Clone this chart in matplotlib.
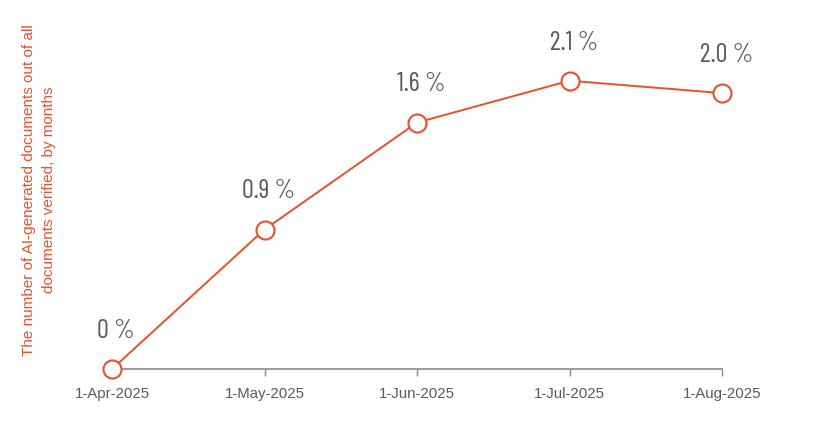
import matplotlib.pyplot as plt

months = ["1-Apr-2025", "1-May-2025", "1-Jun-2025", "1-Jul-2025", "1-Aug-2025"]
# positions (the chart's vertical scale is not exact)
share = [0.0, 0.9, 1.59, 1.86, 1.78]
point_labels = ["0 %", "0.9 %", "1.6 %", "2.1 %", "2.0 %"]

orange = "#e8502a"
grey_txt = "#555a60"

fig = plt.figure(figsize=(8.18, 4.46), dpi=100)
ax = fig.add_axes([112 / 818, 77 / 446, 610 / 818, 341 / 446])

x = list(range(len(months)))
ax.plot(x, share, color=orange, lw=1.4, marker="o", ms=13, mfc="white",
        mec=orange, mew=1.5, clip_on=False, zorder=3)

for xi, yi, lab in zip(x, share, point_labels):
    ax.annotate(lab, (xi, yi), xytext=(3, 27.5), textcoords="offset points",
                ha="center", va="center", fontsize=19, color=grey_txt,
                family=["Barlow Condensed", "DejaVu Sans"])

ax.set_xlim(0, 4)
ax.set_ylim(0, 2.2)
ax.set_xticks(x)
ax.set_xticklabels(months, fontsize=10.8, color=grey_txt, family="Liberation Sans")
ax.tick_params(axis="x", length=5, width=1, color="#888888", pad=8)
ax.set_yticks([])
for s in ["top", "right", "left"]:
    ax.spines[s].set_visible(False)
ax.spines["bottom"].set_color("#888888")
ax.spines["bottom"].set_linewidth(1.2)

fig.text(39 / 818, 256 / 446,
         "The number of AI-generated documents out of all\ndocuments verified, by months",
         rotation=90, ha="center", va="center", multialignment="center",
         fontsize=11, color=orange, family="Liberation Sans", linespacing=1.6)

fig.savefig("out.png", dpi=100)
